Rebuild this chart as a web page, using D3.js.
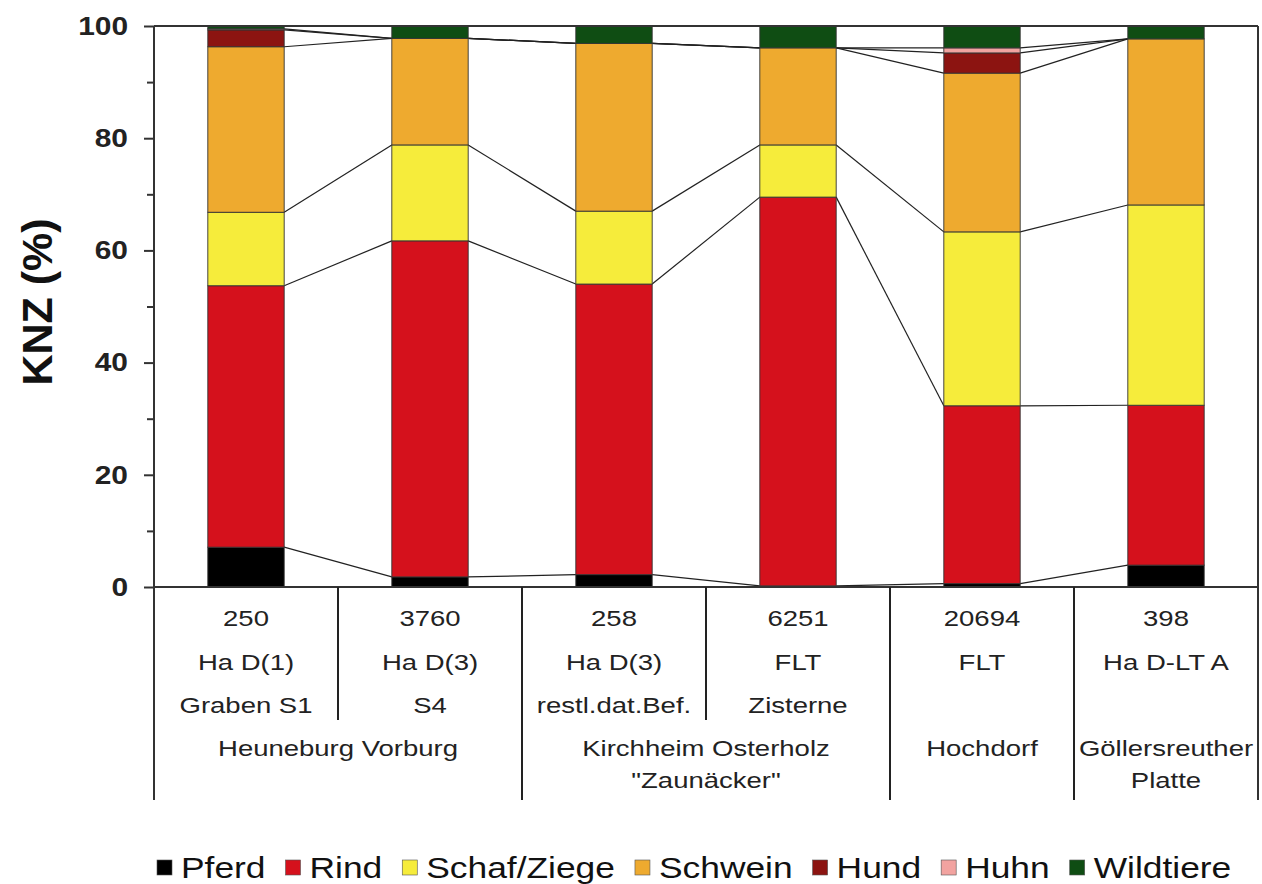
<!DOCTYPE html>
<html>
<head>
<meta charset="utf-8">
<script src="https://cdn.jsdelivr.net/npm/d3@7"></script>
<style>
  body { margin: 0; background: #fff; }
  svg { display: block; font-family: "Liberation Sans", Arial, sans-serif; }
</style>
</head>
<body>
<div id="chart"></div>
<script>
// samples (one bar each)
var counts   = ["250", "3760", "258", "6251", "20694", "398"];
var periods  = ["Ha D(1)", "Ha D(3)", "Ha D(3)", "FLT", "FLT", "Ha D-LT A"];
var features = ["Graben S1", "S4", "restl.dat.Bef.", "Zisterne", "", ""];
var sites = [
    { lines: ["Heuneburg Vorburg"], first: 0, last: 1 },
    { lines: ["Kirchheim Osterholz", "\"Zaunäcker\""], first: 2, last: 3 },
    { lines: ["Hochdorf"], first: 4, last: 4 },
    { lines: ["Göllersreuther", "Platte"], first: 5, last: 5 }
];

// species and their percentages (KNZ %)
var species   = ["Pferd", "Rind", "Schaf/Ziege", "Schwein", "Hund", "Huhn", "Wildtiere"];
var pferd     = [7.1, 1.8, 2.2, 0.2, 0.6, 3.9];
var rind      = [46.6, 59.9, 51.8, 69.3, 31.7, 28.5];
var schaf     = [13.1, 17.1, 13.0, 9.3, 31.0, 35.7];
var schwein   = [29.5, 19.0, 29.9, 17.3, 28.3, 29.6];
var hund      = [3.0, 0, 0, 0, 3.6, 0];
var huhn      = [0.2, 0, 0, 0, 0.9, 0];
var wildtiere = [0.5, 2.2, 3.1, 3.9, 3.9, 2.3];

var yTicks = [0, 20, 40, 60, 80, 100];
var yMinorTicks = [10, 30, 50, 70, 90];

var colors = ["#000000", "#d5111c", "#f6ec3b", "#eeaa2f", "#8c1411", "#f2a3a0", "#0f4d13"];

var width = 1262, height = 884;
var plotLeft = 154, plotRight = 1258, plotTop = 26, plotBase = 587, tableBottom = 800;
var sx = 1.25; // the original figure is stretched horizontally

var ids = counts.map(function (c, i) { return "s" + i; });
var rows = ids.map(function (id, i) {
    return { id: id, Pferd: pferd[i], Rind: rind[i], "Schaf/Ziege": schaf[i], Schwein: schwein[i],
             Hund: hund[i], Huhn: huhn[i], Wildtiere: wildtiere[i] };
});

var svg = d3.select("#chart").append("svg")
    .attr("width", width)
    .attr("height", height);

var x = d3.scaleBand()
    .domain(ids)
    .range([plotLeft, plotRight])
    .paddingInner(0.585)
    .paddingOuter(0.2925);

var y = d3.scaleLinear().domain([0, 100]).range([plotBase, plotTop]);

var color = d3.scaleOrdinal().domain(species).range(colors);

var stacked = d3.stack().keys(species)(rows);

// connecting lines between neighbouring bars
var links = svg.append("g").attr("class", "links");
stacked.forEach(function (layer) {
    for (var i = 0; i < layer.length - 1; i++) {
        links.append("line")
            .attr("x1", x(ids[i]) + x.bandwidth())
            .attr("y1", y(layer[i][1]))
            .attr("x2", x(ids[i + 1]))
            .attr("y2", y(layer[i + 1][1]))
            .attr("stroke", "#222")
            .attr("stroke-width", 1.2);
    }
});

// bars
svg.append("g").selectAll("g")
    .data(stacked)
    .enter().append("g")
    .attr("fill", function (d) { return color(d.key); })
    .selectAll("rect")
    .data(function (d) { return d.filter(function (p) { return p[1] - p[0] > 0; }); })
    .enter().append("rect")
    .attr("x", function (d) { return x(d.data.id); })
    .attr("y", function (d) { return y(d[1]); })
    .attr("width", x.bandwidth())
    .attr("height", function (d) { return y(d[0]) - y(d[1]); })
    .attr("stroke", "#333")
    .attr("stroke-width", 0.9);

// frame
var frame = svg.append("g").attr("stroke", "#333").attr("stroke-width", 2).attr("fill", "none");
frame.append("line").attr("x1", plotLeft).attr("x2", plotRight).attr("y1", plotTop).attr("y2", plotTop);
frame.append("line").attr("x1", plotRight).attr("x2", plotRight).attr("y1", plotTop).attr("y2", tableBottom);
frame.append("line").attr("x1", plotLeft).attr("x2", plotRight).attr("y1", plotBase).attr("y2", plotBase);
frame.append("line").attr("x1", plotLeft).attr("x2", plotLeft).attr("y1", plotTop).attr("y2", tableBottom);

// y axis
var yAxis = svg.append("g")
    .attr("transform", "translate(" + plotLeft + ",0)")
    .call(d3.axisLeft(y).tickValues(yTicks).tickSize(10).tickPadding(16));
yAxis.select(".domain").remove();
yAxis.selectAll(".tick line").attr("stroke", "#333").attr("stroke-width", 2);
yAxis.selectAll(".tick text")
    .attr("font-size", 26)
    .attr("font-weight", "bold")
    .attr("fill", "#222")
    .attr("font-family", "Liberation Sans, Arial, sans-serif")
    .attr("x", -26 / 1.15)
    .attr("transform", "scale(1.15,1)");

var yMinor = svg.append("g")
    .attr("transform", "translate(" + plotLeft + ",0)")
    .call(d3.axisLeft(y).tickValues(yMinorTicks).tickSize(7).tickFormat(""));
yMinor.select(".domain").remove();
yMinor.selectAll(".tick line").attr("stroke", "#333").attr("stroke-width", 2);

svg.append("text")
    .attr("transform", "translate(52,302) rotate(-90)")
    .attr("text-anchor", "middle")
    .attr("font-size", 43)
    .attr("font-weight", "bold")
    .attr("fill", "#111")
    .text("KNZ (%)");

// table under the bars
var step = x.step();
function boundary(k) { return plotLeft + step * k; }

var table = svg.append("g").attr("stroke", "#222").attr("stroke-width", 2);
for (var k = 1; k < ids.length; k++) {
    var isSiteEdge = sites.some(function (s) { return s.first === k; });
    table.append("line")
        .attr("x1", boundary(k)).attr("x2", boundary(k))
        .attr("y1", plotBase).attr("y2", isSiteEdge ? tableBottom : 720);
}

function label(tx, ty, str) {
    svg.append("text")
        .attr("transform", "translate(" + tx + "," + ty + ") scale(" + sx + ",1)")
        .attr("text-anchor", "middle")
        .attr("dy", "0.36em")
        .attr("font-size", 22)
        .attr("fill", "#222")
        .text(str);
}

var rowY = [618, 662, 705, 748, 780];
ids.forEach(function (id, i) {
    var cx = x(id) + x.bandwidth() / 2;
    label(cx, rowY[0], counts[i]);
    label(cx, rowY[1], periods[i]);
    if (features[i]) label(cx, rowY[2], features[i]);
});
sites.forEach(function (s) {
    var cx = (boundary(s.first) + boundary(s.last + 1)) / 2;
    s.lines.forEach(function (ln, j) { label(cx, rowY[3 + j], ln); });
});

// legend
var legend = svg.append("g").attr("transform", "translate(157,868)");
var lx = 0;
species.forEach(function (sp, i) {
    legend.append("rect")
        .attr("x", lx).attr("y", -8)
        .attr("width", 15).attr("height", 15)
        .attr("fill", colors[i])
        .attr("stroke", "#555").attr("stroke-width", 0.6);
    var t = legend.append("text")
        .attr("transform", "translate(" + (lx + 24) + ",0) scale(1.22,1)")
        .attr("dy", "0.36em")
        .attr("font-size", 29)
        .attr("fill", "#111")
        .text(sp);
    lx += 24 + t.node().getComputedTextLength() * 1.22 + 20;
});
</script>
</body>
</html>
